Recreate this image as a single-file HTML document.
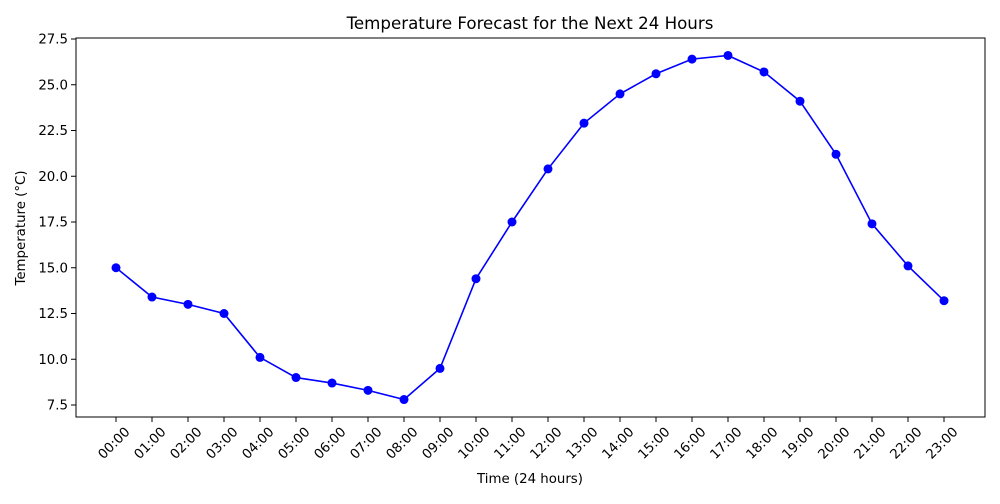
<!DOCTYPE html>
<html><head><meta charset="utf-8"><style>
body{margin:0;background:#fff;font-family:"DejaVu Sans","Liberation Sans",sans-serif;}
svg text{font-family:"DejaVu Sans","Liberation Sans",sans-serif;}
</style></head><body>
<svg width="1000" height="500" xmlns="http://www.w3.org/2000/svg">
<rect width="1000" height="500" fill="#fff"/>
<text x="530" y="29" text-anchor="middle" font-size="16.67" fill="#000">Temperature Forecast for the Next 24 Hours</text>
<g id="ticks"></g>
<polyline id="line" fill="none" stroke="#0000ff" stroke-width="1.6"/>
<g id="pts"></g>
<rect x="76" y="38" width="909" height="379" fill="none" stroke="#000" stroke-width="1"/>
<text x="530" y="483" text-anchor="middle" font-size="13.33">Time (24 hours)</text>
<text transform="translate(25,228) rotate(-90)" text-anchor="middle" font-size="13.33">Temperature (°C)</text>
</svg>
<script>
const categories=["00:00","01:00","02:00","03:00","04:00","05:00","06:00","07:00","08:00","09:00","10:00","11:00","12:00","13:00","14:00","15:00","16:00","17:00","18:00","19:00","20:00","21:00","22:00","23:00"];
const temps=[15.0,13.4,13.0,12.5,10.1,9.0,8.7,8.3,7.8,9.5,14.4,17.5,20.4,22.9,24.5,25.6,26.4,26.6,25.7,24.1,21.2,17.4,15.1,13.2];
const yTicks=[7.5,10.0,12.5,15.0,17.5,20.0,22.5,25.0,27.5];
const NS="http://www.w3.org/2000/svg";
function xs(i){return 116+i*(944-116)/(categories.length-1);}
function ys(v){return 405-(v-7.5)*(405-39)/20;}
const tk=document.getElementById('ticks');
function mk(t,a){const e=document.createElementNS(NS,t);for(const k in a)e.setAttribute(k,a[k]);return e;}
yTicks.forEach(v=>{
 const y=ys(v);
 const l=mk('line',{x1:71,x2:76,y1:y,y2:y,stroke:'#000'});
 
 
 tk.appendChild(l);
 const t=mk('text',{x:68,y:y+4.5,'text-anchor':'end','font-size':'13.33'});
 
 
 t.textContent=v.toFixed(1);tk.appendChild(t);
});
categories.forEach((c,i)=>{
 const x=xs(i);
 const l=mk('line',{x1:x,x2:x,y1:417,y2:422,stroke:'#000'});
 
 
 tk.appendChild(l);
 const t=mk('text',{transform:`translate(${x+8},${426}) rotate(-45)`,'text-anchor':'end','font-size':'13.33',dy:'0.7em'});
 
 
 t.textContent=c;tk.appendChild(t);
});
document.getElementById('line').setAttribute('points',temps.map((v,i)=>xs(i)+','+ys(v)).join(' '));
const pg=document.getElementById('pts');
temps.forEach((v,i)=>{
 const c=mk('circle',{cx:xs(i),cy:ys(v),r:4.5,fill:'#0000ff'});
 
 
 pg.appendChild(c);
});
</script>
</body></html>
